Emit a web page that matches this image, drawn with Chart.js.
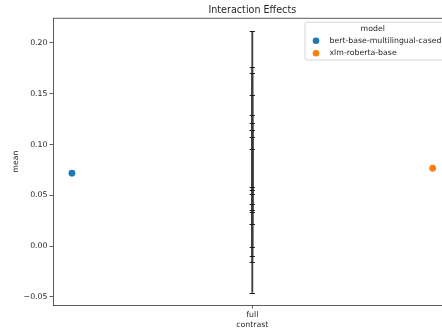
<!DOCTYPE html>
<html>
<head>
<meta charset="utf-8">
<script src="https://cdn.jsdelivr.net/npm/chart.js@4/dist/chart.umd.min.js"></script>
<style>
  html, body { margin: 0; padding: 0; background: #fff; overflow: hidden; width: 442px; height: 336px; }
  #wrap { position: relative; width: 455px; height: 336px; }
  canvas { display: block; }
</style>
</head>
<body>
<div id="wrap"><canvas id="chart" width="455" height="336"></canvas></div>
<script>
// Categories on the x axis
const categories = ['full'];

// Hue levels (models), their colours and mean values
const models = ['bert-base-multilingual-cased', 'xlm-roberta-base'];
const modelColors = ['#1f77b4', '#ff7f0e'];
const modelMeans = [0.0717, 0.0766];

// Confidence intervals drawn at the category centre
const ciLow  = [0.0552, 0.0513, 0.0410, 0.0355, 0.0332, 0.0220, 0.0220, -0.0013, -0.0096, -0.0160, -0.0460];
const ciHigh = [0.2113, 0.1760, 0.1700, 0.1490, 0.1290, 0.1210, 0.1140, 0.1140, 0.1070, 0.0960, 0.0585];

// Y tick values
const yTicks = [-0.05, 0.00, 0.05, 0.10, 0.15, 0.20];

// Layout / style constants
const DODGE = 0.905;
const FONT = 'DejaVu Sans';
const TEXT = '#262626';
const AXIS = '#333333';

const titleText = 'Interaction Effects';
const legendTitle = 'model';

// Error bars for the interval table
const errorBars = {
  id: 'errorBars',
  afterDatasetsDraw(chart) {
    const { ctx, scales: { x, y } } = chart;
    const cx = x.getPixelForValue(0);
    ctx.save();
    ctx.strokeStyle = '#3c3c3c';
    ctx.lineWidth = 1.8;
    for (let i = 0; i < ciLow.length; i++) {
      ctx.beginPath();
      ctx.moveTo(cx, y.getPixelForValue(ciLow[i]));
      ctx.lineTo(cx, y.getPixelForValue(ciHigh[i]));
      ctx.stroke();
    }
    ctx.strokeStyle = '#1a1a1a';
    ctx.lineWidth = 1;
    for (let i = 0; i < ciLow.length; i++) {
      for (const v of [ciLow[i], ciHigh[i]]) {
        const py = Math.round(y.getPixelForValue(v)) + 0.5;
        ctx.beginPath();
        ctx.moveTo(cx - 2.6, py);
        ctx.lineTo(cx + 2.6, py);
        ctx.stroke();
      }
    }
    ctx.restore();
  }
};

// Top/right spines, title and legend
const frame = {
  id: 'frame',
  afterDraw(chart) {
    const { ctx, chartArea: a } = chart;
    ctx.save();
    ctx.strokeStyle = AXIS;
    ctx.lineWidth = 0.8;
    ctx.beginPath();
    ctx.moveTo(a.left, a.top);
    ctx.lineTo(a.right, a.top);
    ctx.lineTo(a.right, a.bottom);
    ctx.stroke();

    // Title
    ctx.fillStyle = TEXT;
    ctx.font = `9.6px "${FONT}"`;
    ctx.textAlign = 'center';
    ctx.textBaseline = 'middle';
    ctx.fillText(titleText, (a.left + a.right) / 2, 10);

    // Legend
    ctx.font = `7.8px "${FONT}"`;
    const lx = 305, ly = 22.3, rowH = 12.6;
    const textX = 329.5;
    let maxW = 0;
    models.forEach(m => { maxW = Math.max(maxW, ctx.measureText(m).width); });
    const lw = textX + maxW + 5 - lx;
    const lh = 37.7;
    ctx.beginPath();
    ctx.roundRect(lx, ly, lw, lh, 2);
    ctx.fillStyle = 'rgba(255,255,255,0.8)';
    ctx.fill();
    ctx.strokeStyle = '#cccccc';
    ctx.lineWidth = 0.8;
    ctx.stroke();

    ctx.fillStyle = TEXT;
    ctx.textAlign = 'center';
    ctx.fillText(legendTitle, lx + lw / 2 - 3, ly + 6.7);
    ctx.textAlign = 'left';
    models.forEach((m, i) => {
      const cy = ly + 18.4 + i * rowH;
      ctx.beginPath();
      ctx.arc(316, cy, 3.3, 0, Math.PI * 2);
      ctx.fillStyle = modelColors[i];
      ctx.fill();
      ctx.fillStyle = TEXT;
      ctx.fillText(m, textX, cy);
    });
    ctx.restore();
  }
};

const datasets = models.map((m, i) => ({
  label: m,
  data: [{ x: (i === 0 ? -DODGE : DODGE), y: modelMeans[i] }],
  backgroundColor: modelColors[i],
  borderColor: modelColors[i],
  borderWidth: 0,
  pointRadius: 3.4,
  pointHoverRadius: 3.4
}));

new Chart(document.getElementById('chart'), {
  type: 'scatter',
  data: { datasets },
  options: {
    responsive: false,
    animation: false,
    devicePixelRatio: 1,
    layout: { padding: { top: 18.3, right: 0, bottom: 0, left: 0 } },
    plugins: {
      legend: { display: false },
      title: { display: false },
      tooltip: { enabled: false }
    },
    scales: {
      x: {
        type: 'linear',
        min: -1,
        max: 1,
        afterBuildTicks(scale) { scale.ticks = categories.map((c, i) => ({ value: i })); },
        afterFit(scale) { scale.height = 31; },
        ticks: {
          callback: (v) => categories[v] ?? '',
          font: { family: FONT, size: 7.8 },
          color: TEXT,
          padding: 2,
          maxRotation: 0
        },
        grid: { drawOnChartArea: false, tickLength: 3.4, color: AXIS, tickWidth: 0.8 },
        border: { display: true, color: AXIS, width: 0.8 },
        title: {
          display: true, text: 'contrast',
          font: { family: FONT, size: 7.8 }, color: TEXT,
          padding: { top: 0, bottom: 6.7 }
        }
      },
      y: {
        type: 'linear',
        min: -0.0581,
        max: 0.2243,
        afterBuildTicks(scale) { scale.ticks = yTicks.map(v => ({ value: v })); },
        afterFit(scale) { scale.width = 53; },
        ticks: {
          callback: (v) => v.toFixed(2).replace('-', '\u2212'),
          font: { family: FONT, size: 7.8 },
          color: TEXT,
          padding: 2.1
        },
        grid: { drawOnChartArea: false, tickLength: 3.4, color: AXIS, tickWidth: 0.8 },
        border: { display: true, color: AXIS, width: 0.8 },
        title: {
          display: true, text: 'mean',
          font: { family: FONT, size: 7.8 }, color: TEXT,
          padding: { top: 11.2, bottom: 0 }
        }
      }
    }
  },
  plugins: [errorBars, frame]
});
</script>
</body>
</html>
